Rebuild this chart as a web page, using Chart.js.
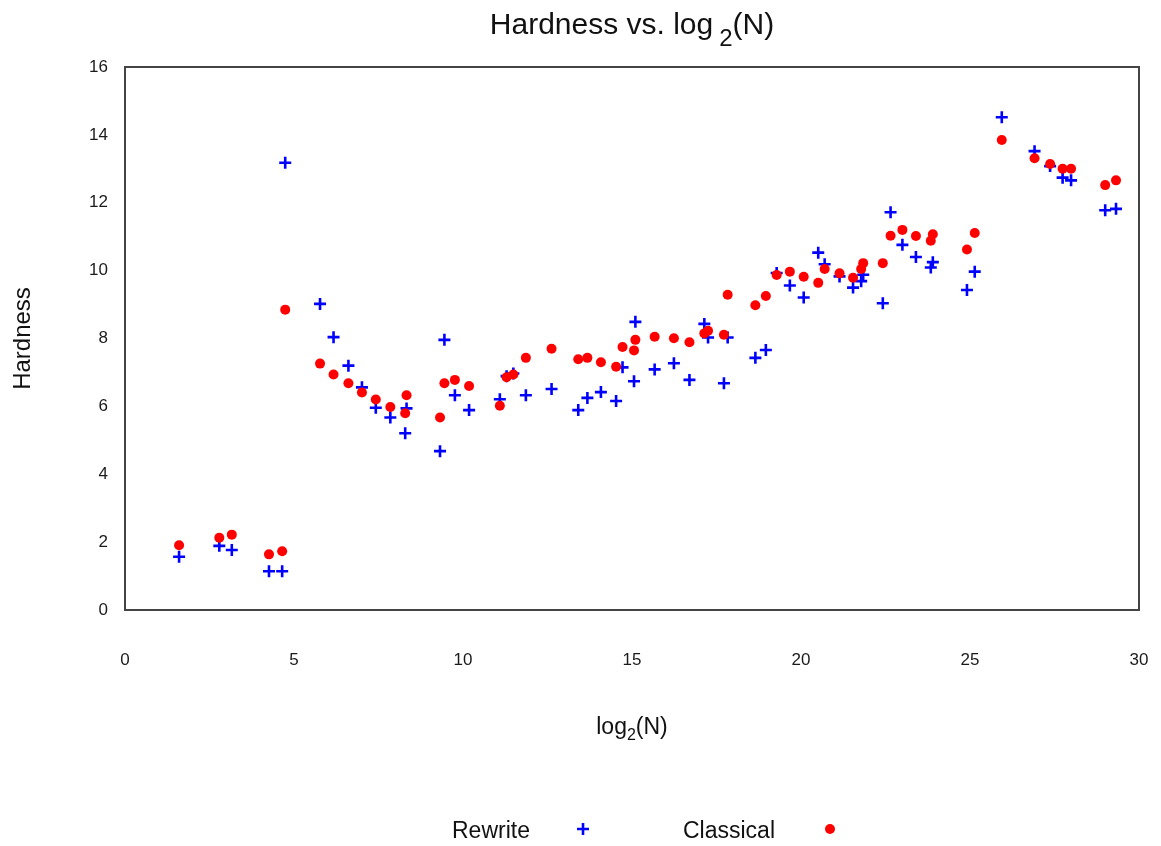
<!DOCTYPE html>
<html>
<head>
<meta charset="utf-8">
<script src="https://cdn.jsdelivr.net/npm/chart.js@4.4.0/dist/chart.umd.min.js"></script>
<style>
  body { margin: 0; background: #fff; }
  #wrap { width: 1161px; height: 846px; }
</style>
</head>
<body>
<div id="wrap"><canvas id="myChart"></canvas></div>
<script>
const logN = [1.60, 2.79, 3.16, 4.26, 4.65, 4.74, 5.77, 6.17, 6.61, 7.01,
  7.42, 7.85, 8.29, 8.33, 9.32, 9.45, 9.76, 10.18, 11.09, 11.29,
  11.49, 11.86, 12.62, 13.41, 13.68, 14.08, 14.53, 14.72, 15.06, 15.10,
  15.67, 16.24, 16.70, 17.14, 17.25, 17.72, 17.83, 18.65, 18.96, 19.28,
  19.67, 20.08, 20.51, 20.70, 21.14, 21.54, 21.78, 21.84, 22.42, 22.65,
  23.00, 23.40, 23.84, 23.90, 24.91, 25.14, 25.94, 26.91, 27.37, 27.74,
  27.99, 29.00, 29.32];
const rewrite = [1.57, 1.89, 1.77, 1.14, 1.14, 13.18, 9.02, 8.04, 7.20, 6.56,
  5.96, 5.67, 5.21, 5.94, 4.68, 7.96, 6.33, 5.89, 6.21, 6.89,
  6.97, 6.33, 6.51, 5.89, 6.25, 6.42, 6.16, 7.15, 6.74, 8.49,
  7.09, 7.27, 6.78, 8.43, 8.03, 6.68, 8.03, 7.43, 7.66, 9.93,
  9.56, 9.21, 10.53, 10.19, 9.83, 9.50, 9.69, 9.88, 9.04, 11.72,
  10.76, 10.40, 10.09, 10.25, 9.43, 9.97, 14.52, 13.52, 13.08, 12.74,
  12.66, 11.78, 11.82];
const classical = [1.91, 2.13, 2.22, 1.64, 1.73, 8.85, 7.26, 6.94, 6.68, 6.41,
  6.20, 5.98, 5.80, 6.33, 5.67, 6.68, 6.78, 6.60, 6.02, 6.86,
  6.94, 7.43, 7.70, 7.39, 7.43, 7.30, 7.17, 7.75, 7.65, 7.96,
  8.05, 8.01, 7.89, 8.15, 8.23, 8.11, 9.29, 8.98, 9.25, 9.87,
  9.97, 9.82, 9.64, 10.05, 9.92, 9.79, 10.05, 10.22, 10.22, 11.03,
  11.20, 11.02, 10.88, 11.07, 10.62, 11.11, 13.85, 13.31, 13.14, 13.00,
  13.00, 12.52, 12.66];
const xTicks = [0, 5, 10, 15, 20, 25, 30];
const yTicks = [0, 2, 4, 6, 8, 10, 12, 14, 16];
const seriesNames = ['Rewrite', 'Classical'];

const FONT = "'Liberation Sans', Arial, sans-serif";

// draws text pieces one after another; each piece may be a subscript
function drawPieces(c, pieces, cx, baseline) {
  let total = 0;
  pieces.forEach(p => {
    c.font = p.size + 'px ' + FONT;
    p.w = c.measureText(p.text).width;
    total += p.w + (p.gap || 0);
  });
  let x = cx - total / 2;
  c.textAlign = 'left';
  c.textBaseline = 'alphabetic';
  pieces.forEach(p => {
    x += p.gap || 0;
    c.font = p.size + 'px ' + FONT;
    c.fillText(p.text, x, baseline + (p.dy || 0));
    x += p.w;
  });
}

const decorations = {
  id: 'decorations',
  afterDraw(chart) {
    const c = chart.ctx;
    const a = chart.chartArea;
    const mid = (a.left + a.right) / 2;
    c.save();
    // frame
    c.strokeStyle = '#444';
    c.lineWidth = 2;
    c.strokeRect(a.left, a.top, a.right - a.left, a.bottom - a.top);
    c.fillStyle = '#111';
    // title
    drawPieces(c, [
      { text: 'Hardness vs. log', size: 30 },
      { text: '2', size: 24, dy: 12, gap: 6 },
      { text: '(N)', size: 30 }
    ], mid, 34);
    // x axis title
    drawPieces(c, [
      { text: 'log', size: 23 },
      { text: '2', size: 16, dy: 6 },
      { text: '(N)', size: 23 }
    ], mid, 734);
    // y axis title
    c.save();
    c.translate(30, (a.top + a.bottom) / 2);
    c.rotate(-Math.PI / 2);
    c.font = '24px ' + FONT;
    c.textAlign = 'center';
    c.textBaseline = 'alphabetic';
    c.fillText('Hardness', 0, 0);
    c.restore();
    // legend: text then marker
    const sets = chart.data.datasets;
    const legendY = 832;
    const items = [
      { textX: 452, markX: 583 },
      { textX: 683, markX: 830 }
    ];
    items.forEach((it, i) => {
      const ds = sets[i];
      c.font = '23px ' + FONT;
      c.fillStyle = '#111';
      c.textAlign = 'left';
      c.textBaseline = 'middle';
      c.fillText(seriesNames[i], it.textX, legendY);
      c.strokeStyle = ds.borderColor;
      c.fillStyle = ds.backgroundColor;
      c.lineWidth = ds.borderWidth;
      Chart.helpers.drawPoint(c, {
        pointStyle: ds.pointStyle,
        radius: ds.pointRadius,
        borderWidth: ds.borderWidth
      }, it.markX, legendY - 3);
    });
    c.restore();
  }
};

const ctx = document.getElementById('myChart');

new Chart(ctx, {
  type: 'scatter',
  data: {
    datasets: [
      {
        label: seriesNames[0],
        data: logN.map((x, i) => ({ x: x, y: rewrite[i] })),
        pointStyle: 'cross',
        pointRadius: 6,
        pointHoverRadius: 6,
        borderColor: '#0000ff',
        backgroundColor: '#0000ff',
        borderWidth: 2.6,
        order: 2
      },
      {
        label: seriesNames[1],
        data: logN.map((x, i) => ({ x: x, y: classical[i] })),
        pointStyle: 'circle',
        pointRadius: 5,
        pointHoverRadius: 5,
        borderColor: '#ff0000',
        backgroundColor: '#ff0000',
        borderWidth: 0,
        order: 1
      }
    ]
  },
  options: {
    responsive: true,
    maintainAspectRatio: false,
    animation: false,
    layout: { padding: { left: 0, top: 67, right: 22, bottom: 0 } },
    plugins: {
      legend: { display: false },
      title: { display: false },
      tooltip: { enabled: false }
    },
    scales: {
      x: {
        type: 'linear',
        min: xTicks[0],
        max: xTicks[xTicks.length - 1],
        afterBuildTicks: s => { s.ticks = xTicks.map(v => ({ value: v })); },
        afterFit: s => { s.height = 236; s.paddingLeft = 0; s.paddingRight = 0; },
        grid: { display: false, drawTicks: false },
        border: { display: false },
        ticks: {
          padding: 40,
          color: '#1a1a1a',
          font: { family: FONT, size: 17 },
          maxRotation: 0
        }
      },
      y: {
        type: 'linear',
        min: yTicks[0],
        max: yTicks[yTicks.length - 1],
        afterBuildTicks: s => { s.ticks = yTicks.map(v => ({ value: v })); },
        afterFit: s => { s.width = 125; s.paddingTop = 0; s.paddingBottom = 0; },
        grid: { display: false, drawTicks: false },
        border: { display: false },
        ticks: {
          padding: 17,
          color: '#1a1a1a',
          font: { family: FONT, size: 17 }
        }
      }
    }
  },
  plugins: [decorations]
});
</script>
</body>
</html>
